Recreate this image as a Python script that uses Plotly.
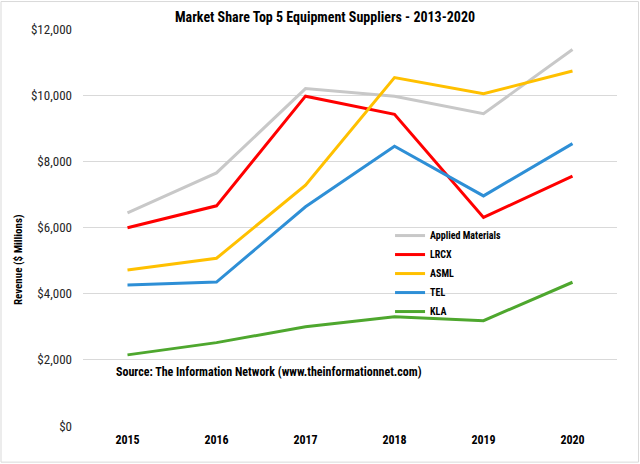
import plotly.graph_objects as go

years = ["2015", "2016", "2017", "2018", "2019", "2020"]
applied_materials = [6440, 7650, 10200, 9970, 9440, 11380]
lrcx = [5990, 6655, 9970, 9420, 6305, 7550]
asml = [4715, 5070, 7280, 10530, 10045, 10730]
tel = [4260, 4350, 6625, 8455, 6955, 8535]
kla = [2150, 2520, 3000, 3305, 3185, 4345]

series_names = ["Applied Materials", "LRCX", "ASML", "TEL", "KLA"]
series_values = [applied_materials, lrcx, asml, tel, kla]
series_colors = ["#C8C8C8", "#FF0000", "#FFC000", "#2E8FD6", "#4EA72E"]

y_ticks = [0, 2000, 4000, 6000, 8000, 10000, 12000]
y_tick_labels = ["$0", "$2,000", "$4,000", "$6,000", "$8,000", "$10,000", "$12,000"]

FONT = "Liberation Sans Narrow, Roboto Condensed, Roboto, sans-serif"

fig = go.Figure()
for name, vals, col in zip(series_names, series_values, series_colors):
    fig.add_trace(go.Scatter(x=years, y=vals, name=name, mode="lines",
                             line=dict(color=col, width=3)))

W, H = 640, 464
ml, mr, mt, mb = 83, 23, 28.5, 37.7

fig.update_layout(
    width=W, height=H,
    margin=dict(l=ml, r=mr, t=mt, b=mb),
    paper_bgcolor="white", plot_bgcolor="white",
    font=dict(family=FONT, color="#000000"),
    showlegend=True,
    legend=dict(x=0.575, xanchor="left", y=0.384, yanchor="middle",
                bgcolor="rgba(0,0,0,0)", font=dict(size=10, family=FONT, weight="bold"),
                itemwidth=30),
    xaxis=dict(type="category", range=[-0.5, 5.5], showgrid=False, showline=False,
               ticks="", tickfont=dict(size=12, family=FONT, weight="bold"),
               ticklabelstandoff=5),
    yaxis=dict(range=[0, 12000], tickvals=y_ticks, ticktext=y_tick_labels,
               showgrid=True, gridcolor="#D9D9D9", gridwidth=1.3, zeroline=False,
               showline=False, ticks="", tickfont=dict(size=13, family=FONT, color="#262626"),
               ticklabelstandoff=10),
    annotations=[
        dict(text="<b>Market Share Top 5 Equipment Suppliers - 2013-2020</b>",
             xref="paper", yref="paper", x=(325 - ml) / (W - ml - mr),
             y=1 + (mt - 16) / (H - mt - mb), xanchor="center", yanchor="middle",
             showarrow=False, font=dict(size=14, family=FONT)),
        dict(text="<b>Revenue ($ Millions)</b>", textangle=-90,
             xref="paper", yref="paper", x=(18 - ml) / (W - ml - mr),
             y=(H - mb - 260) / (H - mt - mb), xanchor="center", yanchor="middle",
             showarrow=False, font=dict(size=11, family=FONT)),
        dict(text="<b>Source: The Information Network (www.theinformationnet.com)</b>",
             xref="paper", yref="paper", x=(114 - ml) / (W - ml - mr),
             y=(H - mb - 372) / (H - mt - mb), xanchor="left", yanchor="middle",
             showarrow=False, font=dict(size=12, family=FONT)),
    ],
    shapes=[
        dict(type="rect", xref="paper", yref="paper",
             x0=(1 - ml) / (W - ml - mr), x1=(638.5 - ml) / (W - ml - mr),
             y0=(H - mb - 462.5) / (H - mt - mb), y1=(H - mb - 1) / (H - mt - mb),
             line=dict(color="#D9D9D9", width=1), layer="below"),
    ],
)

fig.write_html("out.html", config={"displayModeBar": False},
               post_script="document.body.style.margin='0';document.body.style.padding='0';")
